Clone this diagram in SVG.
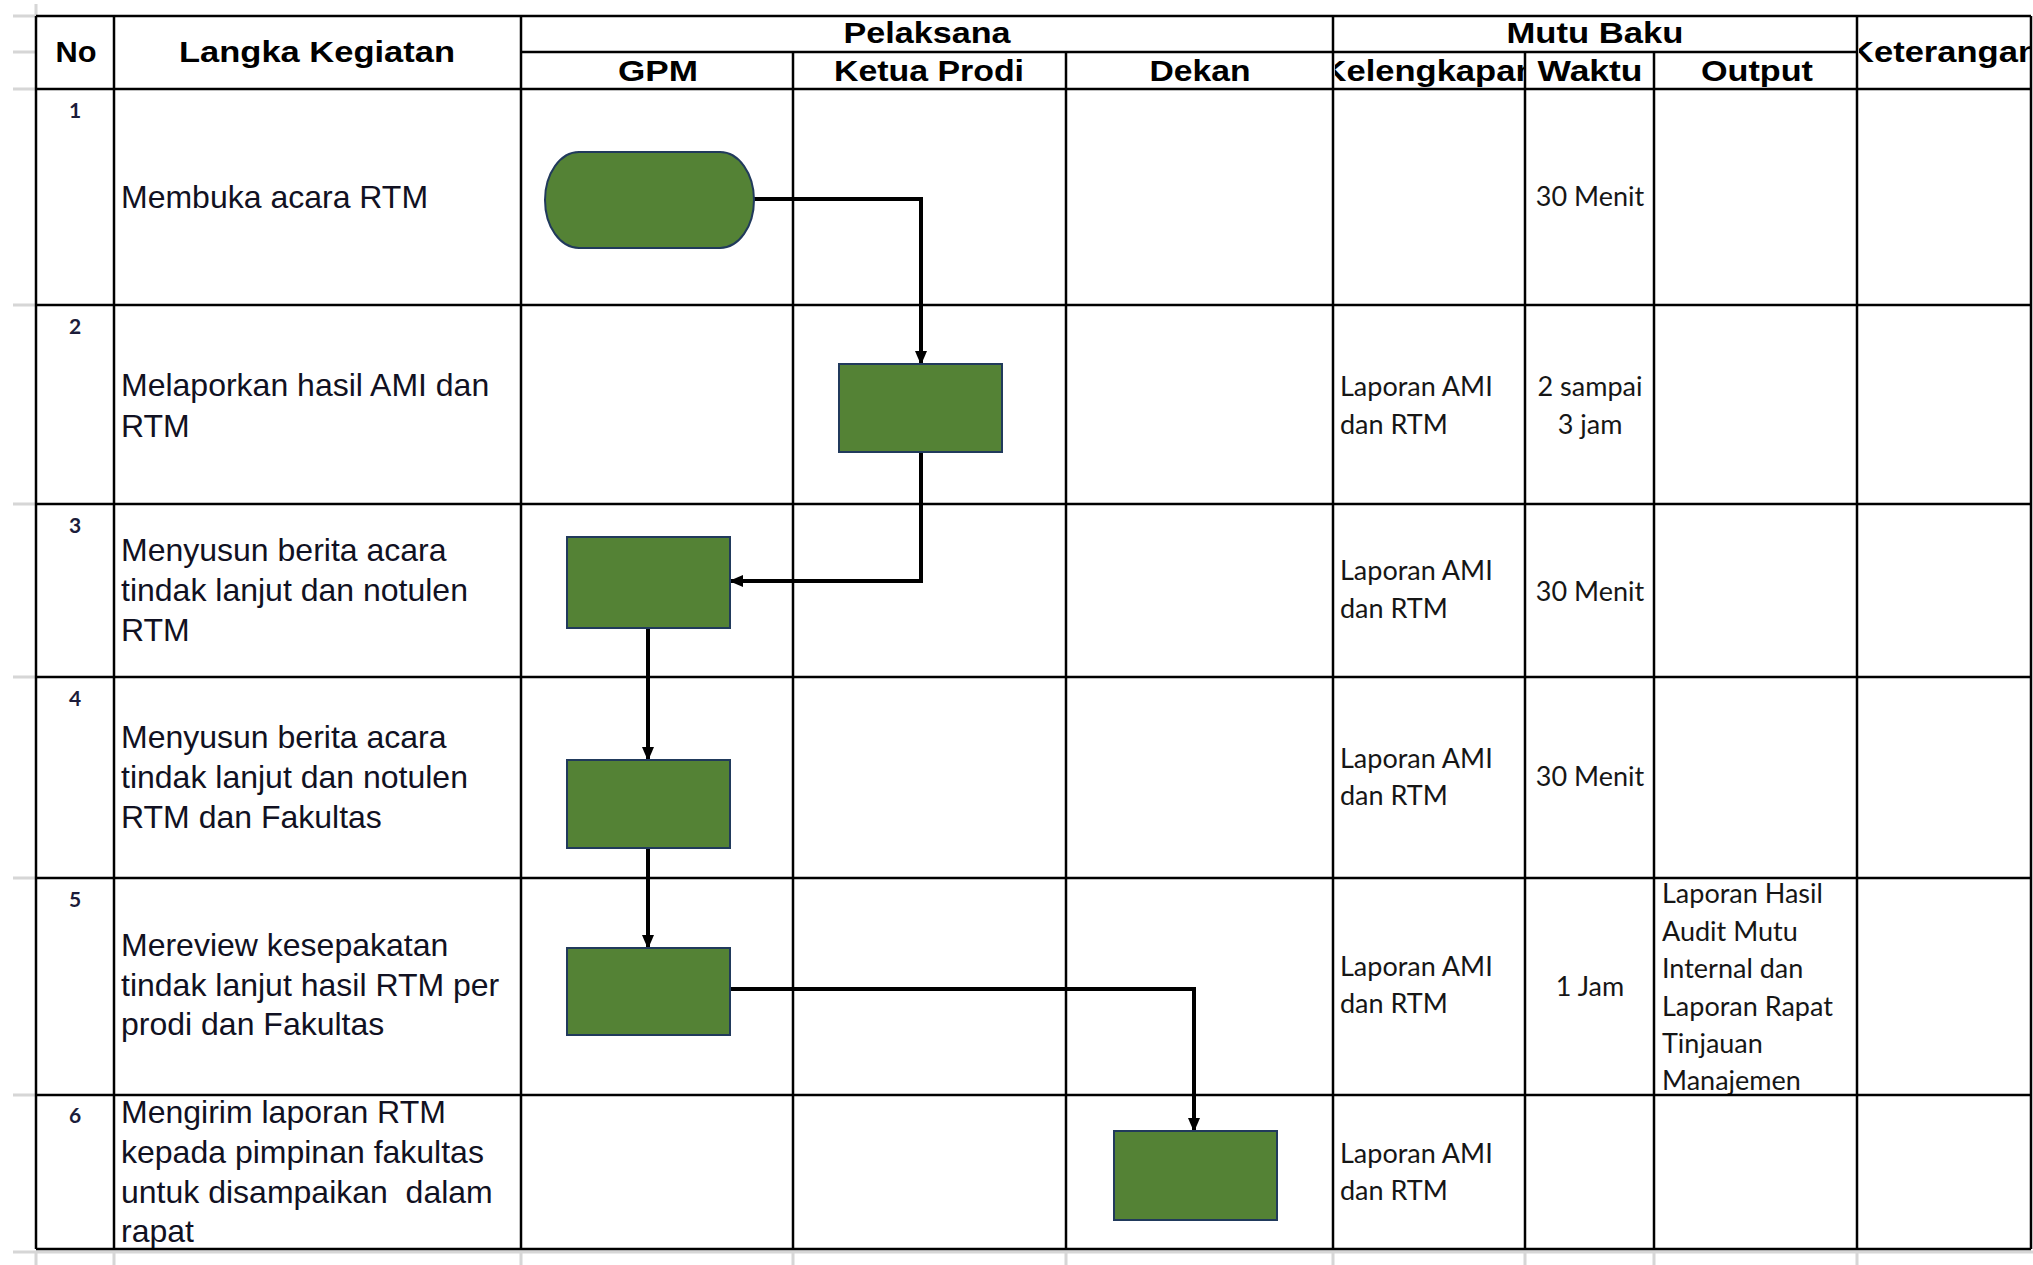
<svg xmlns="http://www.w3.org/2000/svg" width="2033" height="1265" viewBox="0 0 2033 1265">
<style>
.hd{font-family:"Liberation Sans",Arial,sans-serif;font-weight:bold;font-size:30px;fill:#000;text-anchor:middle}
.body{font-family:"Liberation Sans",Arial,sans-serif;font-size:32px;fill:#111122}
.num{font-family:Lato,"Liberation Sans",sans-serif;font-weight:bold;font-size:21px;fill:#1c1c3a;text-anchor:middle}
.mb{font-family:Lato,"Liberation Sans",sans-serif;font-size:27px;fill:#161616}
.mbc{font-family:Lato,"Liberation Sans",sans-serif;font-size:27px;fill:#161616;text-anchor:middle}
.grid{stroke:#000;stroke-width:2.5;fill:none}
.gray{stroke:#d6d6d6;stroke-width:3;fill:none}
.shape{fill:#548235;stroke:#213a5c;stroke-width:2}
.conn{stroke:#000;stroke-width:4;fill:none}
</style>
<defs>
<marker id="arr" markerUnits="userSpaceOnUse" markerWidth="14" markerHeight="12" refX="13" refY="6" orient="auto">
<path d="M0,0 L14,6 L0,12 z" fill="#000"/>
</marker>
<clipPath id="clipKel"><rect x="1335" y="53" width="189" height="35"/></clipPath>
<clipPath id="clipKet"><rect x="1859" y="17" width="172" height="71"/></clipPath>
<clipPath id="clipOut5"><rect x="1655" y="879" width="201" height="215"/></clipPath>
</defs>
<rect width="2033" height="1265" fill="#fff"/>

<g id="excel-gridlines">
<path class="gray" d="M13,16H36 M13,52H36 M13,89H36 M13,305H36 M13,504H36 M13,677H36 M13,878H36 M13,1095H36 M13,1252H2033 M36,4V16"/>
<path class="gray" d="M36,1252V1265 M114,1252V1265 M521,1252V1265 M793,1252V1265 M1066,1252V1265 M1333,1252V1265 M1525,1252V1265 M1654,1252V1265 M1857,1252V1265"/>
</g>

<g id="table-text">
<text class="hd" x="76" y="62" textLength="41" lengthAdjust="spacingAndGlyphs">No</text>
<text class="hd" x="317" y="62" textLength="276" lengthAdjust="spacingAndGlyphs">Langka Kegiatan</text>
<text class="hd" x="927" y="43" textLength="167" lengthAdjust="spacingAndGlyphs">Pelaksana</text>
<text class="hd" x="658" y="81" textLength="80" lengthAdjust="spacingAndGlyphs">GPM</text>
<text class="hd" x="929" y="81" textLength="190" lengthAdjust="spacingAndGlyphs">Ketua Prodi</text>
<text class="hd" x="1200" y="81" textLength="101" lengthAdjust="spacingAndGlyphs">Dekan</text>
<text class="hd" x="1595" y="43" textLength="177" lengthAdjust="spacingAndGlyphs">Mutu Baku</text>
<g clip-path="url(#clipKel)"><text class="hd" x="1429" y="81" textLength="215" lengthAdjust="spacingAndGlyphs">Kelengkapan</text></g>
<text class="hd" x="1590" y="81" textLength="105" lengthAdjust="spacingAndGlyphs">Waktu</text>
<text class="hd" x="1757" y="81" textLength="112" lengthAdjust="spacingAndGlyphs">Output</text>
<g clip-path="url(#clipKet)"><text class="hd" x="1944" y="62" textLength="190" lengthAdjust="spacingAndGlyphs">Keterangan</text></g>

<text class="num" x="75" y="118">1</text>
<text class="num" x="75" y="334">2</text>
<text class="num" x="75" y="533">3</text>
<text class="num" x="75" y="706">4</text>
<text class="num" x="75" y="907">5</text>
<text class="num" x="75" y="1123">6</text>

<text class="body" x="121" y="208">Membuka acara RTM</text>
<text class="body" x="121" y="396">Melaporkan hasil AMI dan</text>
<text class="body" x="121" y="437">RTM</text>
<text class="body" x="121" y="561">Menyusun berita acara</text>
<text class="body" x="121" y="601">tindak lanjut dan notulen</text>
<text class="body" x="121" y="641">RTM</text>
<text class="body" x="121" y="748">Menyusun berita acara</text>
<text class="body" x="121" y="788">tindak lanjut dan notulen</text>
<text class="body" x="121" y="828">RTM dan Fakultas</text>
<text class="body" x="121" y="956">Mereview kesepakatan</text>
<text class="body" x="121" y="996">tindak lanjut hasil RTM per</text>
<text class="body" x="121" y="1035">prodi dan Fakultas</text>
<text class="body" x="121" y="1123">Mengirim laporan RTM</text>
<text class="body" x="121" y="1163">kepada pimpinan fakultas</text>
<text class="body" x="121" y="1203" style="white-space:pre">untuk disampaikan  dalam</text>
<text class="body" x="121" y="1242">rapat</text>

<text class="mbc" x="1590" y="206">30 Menit</text>
<text class="mb" x="1340" y="396">Laporan AMI</text>
<text class="mb" x="1340" y="434">dan RTM</text>
<text class="mbc" x="1590" y="396">2 sampai</text>
<text class="mbc" x="1590" y="434">3 jam</text>
<text class="mb" x="1340" y="580">Laporan AMI</text>
<text class="mb" x="1340" y="618">dan RTM</text>
<text class="mbc" x="1590" y="601">30 Menit</text>
<text class="mb" x="1340" y="768">Laporan AMI</text>
<text class="mb" x="1340" y="805">dan RTM</text>
<text class="mbc" x="1590" y="786">30 Menit</text>
<text class="mb" x="1340" y="976">Laporan AMI</text>
<text class="mb" x="1340" y="1013">dan RTM</text>
<text class="mbc" x="1590" y="996">1 Jam</text>
<g clip-path="url(#clipOut5)">
<text class="mb" x="1662" y="903">Laporan Hasil</text>
<text class="mb" x="1662" y="941">Audit Mutu</text>
<text class="mb" x="1662" y="978">Internal dan</text>
<text class="mb" x="1662" y="1016">Laporan Rapat</text>
<text class="mb" x="1662" y="1053">Tinjauan</text>
<text class="mb" x="1662" y="1090">Manajemen</text>
</g>
<text class="mb" x="1340" y="1163">Laporan AMI</text>
<text class="mb" x="1340" y="1200">dan RTM</text>
</g>

<g id="table-grid">
<path class="grid" d="M36,16H2031 M521,52H1857 M36,89H2031 M36,305H2031 M36,504H2031 M36,677H2031 M36,878H2031 M36,1095H2031 M36,1249H2031"/>
<path class="grid" d="M36,16V1249 M114,16V1249 M521,16V1249 M793,52V1249 M1066,52V1249 M1333,16V1249 M1525,52V1249 M1654,52V1249 M1857,16V1249 M2031,16V1249"/>
</g>

<g id="connectors">
<path class="conn" d="M754,199 H921 V364" marker-end="url(#arr)"/>
<path class="conn" d="M921,452 V581 H730" marker-end="url(#arr)"/>
<path class="conn" d="M648,628 V760" marker-end="url(#arr)"/>
<path class="conn" d="M648,848 V948" marker-end="url(#arr)"/>
<path class="conn" d="M730,989 H1194 V1131" marker-end="url(#arr)"/>
</g>

<g id="node-start"><rect class="shape" x="545" y="152" width="209" height="96" rx="34" ry="48"/></g>
<g id="node-2"><rect class="shape" x="839" y="364" width="163" height="88"/></g>
<g id="node-3"><rect class="shape" x="567" y="537" width="163" height="91"/></g>
<g id="node-4"><rect class="shape" x="567" y="760" width="163" height="88"/></g>
<g id="node-5"><rect class="shape" x="567" y="948" width="163" height="87"/></g>
<g id="node-6"><rect class="shape" x="1114" y="1131" width="163" height="89"/></g>
</svg>
